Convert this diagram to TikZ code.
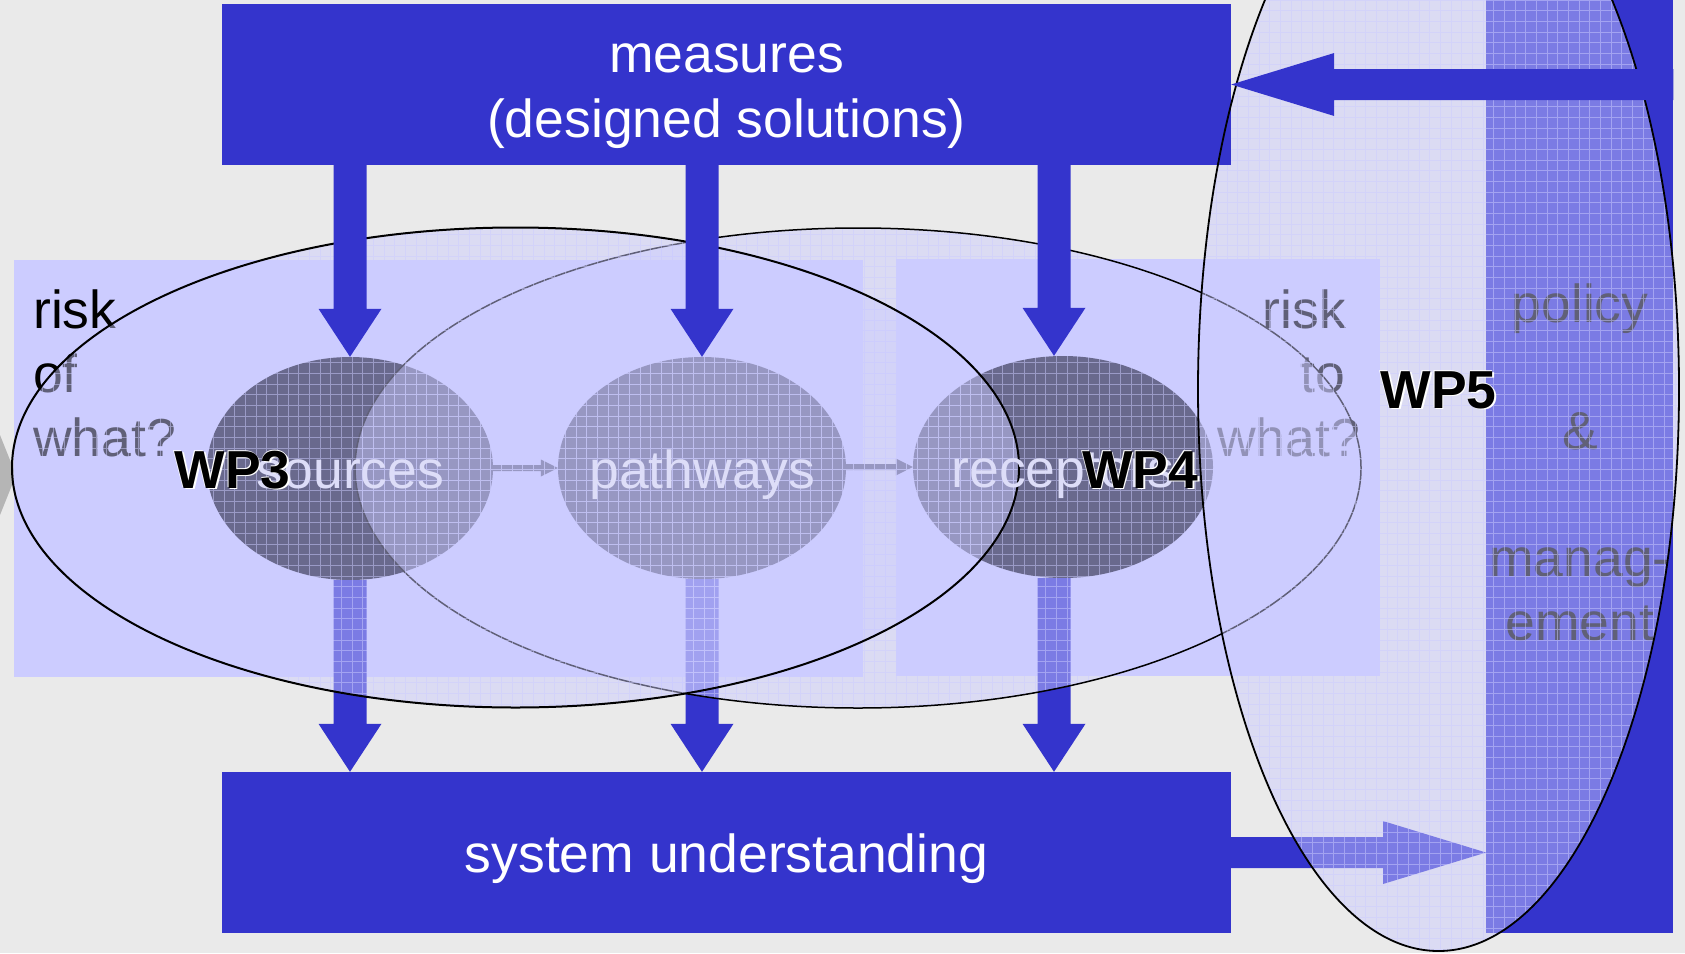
\documentclass[tikz,border=0pt]{standalone}
\usepackage{fontspec}
\setmainfont{Liberation Sans}
\usetikzlibrary{calc,shapes.geometric}

\definecolor{bggray}{HTML}{EAEAEA}
\definecolor{deepblue}{HTML}{3434CC}
\definecolor{panelblue}{HTML}{CCCCFF}
\definecolor{veilblue}{HTML}{CCCCFF}
\definecolor{blobcore}{HTML}{121228}
\definecolor{labellight}{HTML}{DDDDF8}
\definecolor{tipgray}{HTML}{B5B5B5}

\newcommand\bigsize{\fontsize{53.5pt}{64pt}\selectfont}

% vertical block arrow: shaft from #1 down to the tip #2 (x taken from #2)
\newcommand\blockdown[2]{%
  \fill[deepblue] let \p1=(#1), \p2=(#2) in
    (\x2-16.5pt,\y1) -- (\x2+16.5pt,\y1) -- (\x2+16.5pt,\y2+48pt)
    -- (\x2+31.5pt,\y2+48pt) -- (\x2,\y2) -- (\x2-31.5pt,\y2+48pt)
    -- (\x2-16.5pt,\y2+48pt) -- cycle;}

% horizontal block arrows: colour, start, tip, shaft half width, head half width, head length
\newcommand\hblockright[6]{%
  \fill[#1] let \p1=(#2), \p2=(#3) in
    (\x1,\y2+#4) -- (\x2-#6,\y2+#4) -- (\x2-#6,\y2+#5) -- (\x2,\y2)
    -- (\x2-#6,\y2-#5) -- (\x2-#6,\y2-#4) -- (\x1,\y2-#4) -- cycle;}
\newcommand\hblockleft[6]{%
  \fill[#1] let \p1=(#2), \p2=(#3) in
    (\x1,\y2+#4) -- (\x2+#6,\y2+#4) -- (\x2+#6,\y2+#5) -- (\x2,\y2)
    -- (\x2+#6,\y2-#5) -- (\x2+#6,\y2-#4) -- (\x1,\y2-#4) -- cycle;}

% translucent lavender ellipse with its fine grid texture
\newcommand\veil[3]{%
  \begin{scope}
    \clip (#1) ellipse [x radius=#2, y radius=#3];
    \fill[veilblue, fill opacity=0.47] (#1) ellipse [x radius=#2, y radius=#3];
    \draw[veilblue, draw opacity=0.5, line width=1pt, step=10.67pt]
      ($(#1)+(-#2,-#3)$) grid ($(#1)+(#2,#3)$);
  \end{scope}}

% bold label with a white shadow
\newcommand\haloed[1]{%
  \rlap{\textcolor{white}{\kern1.8pt\raisebox{-1.8pt}{#1}}}%
  \rlap{\textcolor{white}{\kern-0.7pt\raisebox{0.7pt}{#1}}}#1}

\begin{document}
\begin{tikzpicture}[x=1pt,y=-1pt,
  bluebox/.style={rectangle, fill=deepblue, inner sep=0pt,
    minimum width=1009pt, minimum height=161pt},
  blob/.style={ellipse, fill=blobcore, inner sep=0pt},
  plainword/.style={inner sep=0pt, font=\bigsize},
  boxword/.style={plainword, text=white, anchor=base},
  blobword/.style={plainword, text=labellight, anchor=base},
  wpword/.style={inner sep=0pt, font=\bfseries\bigsize, anchor=base},
  rim/.style={draw=black, line width=1.8pt}]

\useasboundingbox (0,0) rectangle (1685,953);
\clip (0,0) rectangle (1685,953);
\fill[bggray] (0,0) rectangle (1685,953);

% wedge at the far left edge
\fill[tipgray] (0,435) -- (16,475) -- (0,515) -- cycle;

% background panels
\fill[panelblue] (14,260) rectangle (863,677);
\fill[panelblue] (896,259) rectangle (1380,676);

% policy column and system understanding box
\node[rectangle, fill=deepblue, inner sep=0pt, minimum width=187pt,
      minimum height=933pt, anchor=north west] (policy) at (1486,0) {};
\node[bluebox] (understanding) at (726.5,852.5) {};

% sources / pathways / receptors
\node[blob, minimum width=286pt, minimum height=223pt] (src) at (350,468.5) {};
\node[blob, minimum width=288pt, minimum height=222pt] (path) at (702,468) {};
\node[blob, minimum width=300pt, minimum height=222pt] (rec) at (1063,467) {};
\coordinate (recaxis) at (1054,467);

% chain arrows between the blobs
\hblockright{blobcore}{src.east}{path.west}{3pt}{8.5pt}{17pt}
\hblockright{blobcore}{path.east}{rec.west}{3pt}{8.5pt}{17pt}

% arrows down into system understanding
\blockdown{src.south}{understanding.north -| src}
\blockdown{path.south}{understanding.north -| path}
\blockdown{recaxis |- rec.south}{understanding.north -| recaxis}

% system understanding feeds policy
\hblockright{deepblue}{understanding.east}{policy.west |- understanding.east}{15.5pt}{31.5pt}{103pt}

% side texts
\node[plainword, anchor=base west] at (33,328) {risk};
\node[plainword, anchor=base west] at (33,392) {of};
\node[plainword, anchor=base west] at (33,456) {what?};
\node[plainword, anchor=base east] at (1346,328) {risk};
\node[plainword, anchor=base east] at (1345,392) {to};
\node[plainword, anchor=base east] at (1360,456) {what?};
\node[plainword, anchor=base] at (1580,322) {policy};
\node[plainword, anchor=base] at (1580,449) {\&};
\node[plainword, anchor=base] at (1580,576) {manag-};
\node[plainword, anchor=base] at (1580,640) {ement};

% the two risk ellipses
\coordinate (eright) at (858,468);
\coordinate (eleft) at (515.5,467.5);
\veil{eright}{503pt}{240pt}
\draw[line width=1.5pt] (eright) ellipse [x radius=503pt, y radius=240pt];
\veil{eleft}{503.5pt}{240pt}
\draw[line width=2pt] (eleft) ellipse [x radius=503.5pt, y radius=240pt];

% WP5 ellipse
\coordinate (ewp) at (1438.5,389);
\veil{ewp}{240.5pt}{562pt}

% measures box
\node[bluebox] (measures) at (726.5,84.5) {};
\draw[rim] (ewp) ellipse [x radius=240.5pt, y radius=562pt];

% policy back to measures
\hblockleft{deepblue}{policy.east |- measures.east}{measures.east}{15.5pt}{31.5pt}{103pt}

% measures act on the chain
\blockdown{measures.south -| src}{src.north}
\blockdown{measures.south -| path}{path.north}
\blockdown{measures.south -| recaxis}{recaxis |- rec.north}

% box texts
\node[boxword] at (726.5,72) {measures};
\node[boxword] at (726.5,137) {(designed solutions)};
\node[boxword] at (726.5,872) {system understanding};

% blob texts
\node[blobword] at (350.5,488) {sources};
\node[blobword] at (702.5,488) {pathways};
\node[blobword] at (1063,487) {receptors};

% work package labels
\node[wpword] at (232.5,488) {\haloed{WP3}};
\node[wpword] at (1140,488) {\haloed{WP4}};
\node[wpword] at (1438.5,408) {\haloed{WP5}};
\end{tikzpicture}
\end{document}
